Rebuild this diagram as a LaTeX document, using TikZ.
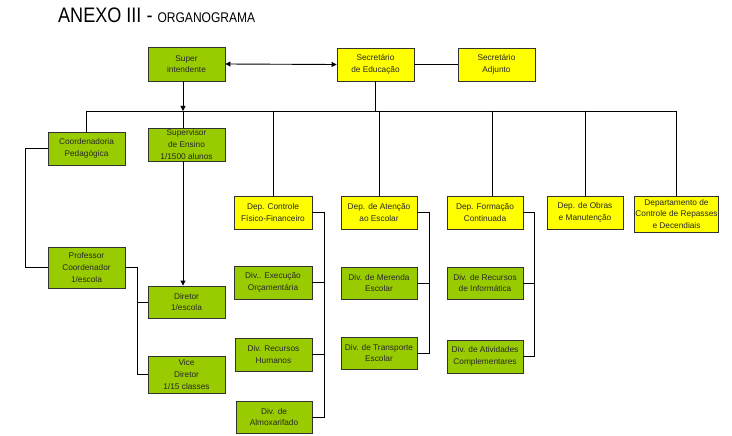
\documentclass[tikz,border=0pt]{standalone}
\usepackage{fontspec}
\setmainfont{Liberation Sans}
\newfontfamily\titlefont[FakeStretch=0.86]{Liberation Sans}
\usetikzlibrary{arrows.meta}
\definecolor{gfill}{RGB}{153,204,0}
\definecolor{yfill}{RGB}{255,255,0}
\definecolor{bordc}{RGB}{50,50,50}
\definecolor{txtc}{RGB}{40,40,40}
\tikzset{
  orgbox/.style={draw=bordc, line width=0.9pt, inner sep=1pt, align=center,
    text=txtc, font=\fontsize{8.3}{11.6}\selectfont, minimum width=77pt, minimum height=33pt},
  gbox/.style={orgbox, fill=gfill},
  ybox/.style={orgbox, fill=yfill},
  conn/.style={draw=black, line width=0.9pt},
  arr/.style={conn, -{Triangle[length=5pt,width=5pt]}},
  darr/.style={conn, {Triangle[length=5pt,width=5pt]}-{Triangle[length=5pt,width=5pt]}}
}
\begin{document}
\begin{tikzpicture}[x=1pt,y=-1pt]
\useasboundingbox (0,0) rectangle (732,436);
\node[anchor=base west, inner sep=0pt] (title) at (58,23)
  {\titlefont\fontsize{21}{24}\selectfont ANEXO III - \fontsize{14}{16}\selectfont ORGANOGRAMA};

% top row
\node[gbox, minimum height=34pt] (super) at (186.5,64) {Super\\intendente};
\node[ybox] (seced) at (375.5,64.5) {Secretário\\de Educação};
\node[ybox] (secadj) at (496.5,64.5) {Secretário\\Adjunto};

% left block
\node[gbox] (coord) at (86.5,148.5) {Coordenadoria\\Pedagógica};
\node[gbox] (superv) at (186.5,144.5) {Supervisor\\de Ensino\\1/1500 alunos};
\node[gbox, minimum height=41pt] (prof) at (86.5,267.5) {Professor\\Coordenador\\1/escola};
\node[gbox, minimum height=32pt] (diretor) at (186.5,302) {Diretor\\1/escola};
\node[gbox, minimum height=37pt] (vice) at (186.5,374.5) {Vice\\Diretor\\1/15 classes};

% departments
\node[ybox, minimum width=78pt] (depctrl) at (273,212.5) {Dep. Controle\\Físico-Financeiro};
\node[ybox, minimum width=76pt] (depaten) at (379,212.5) {Dep. de Atenção\\ao Escolar};
\node[ybox, minimum width=76pt] (depform) at (485,212.5) {Dep. Formação\\Continuada};
\node[ybox, minimum width=76pt] (depobras) at (585,212.5) {Dep. de Obras\\e Manutenção};
\node[ybox, minimum width=83pt, minimum height=36pt] (deprep) at (676.5,214) {Departamento de\\Controle de Repasses\\e Decendiais};

% divisions
\node[gbox, minimum width=78pt] (divexec) at (273,282.5) {Div.. Execução\\Orçamentária};
\node[gbox] (divrh) at (273.5,354.5) {Div. Recursos\\Humanos};
\node[gbox, minimum width=76pt, minimum height=32pt] (divalm) at (274,417) {Div. de\\Almoxarifado};
\node[gbox, minimum width=76pt, minimum height=32pt] (divmer) at (379,283) {Div. de Merenda\\Escolar};
\node[gbox, minimum width=76pt, minimum height=32pt] (divtrans) at (379,353) {Div. de Transporte\\Escolar};
\node[gbox, minimum width=76pt, minimum height=32pt] (divinf) at (485,283) {Div. de Recursos\\de Informática};
\node[gbox, minimum width=76pt] (divativ) at (485,356.5) {Div. de Atividades\\Complementares};

% bus
\coordinate (bus) at (0,111);
\coordinate (sx) at (183,0);
\draw[darr] (super.east) -- (seced.west);
\draw[conn] (seced.east) -- (secadj.west);
\draw[arr] (super.south -| sx) -- (sx |- bus);
\draw[conn] (seced.south) -- (seced.south |- bus);
\draw[conn] (coord.north |- bus) -- (deprep.north |- bus);
\draw[conn] (coord.north |- bus) -- (coord.north);
\draw[conn] (sx |- bus) -- (sx |- superv.north);
\draw[arr] (sx |- superv.south) -- (sx |- diretor.north);
\draw[conn] (depctrl.north |- bus) -- (depctrl.north);
\draw[conn] (depaten.north |- bus) -- (depaten.north);
\draw[conn] ([xshift=7pt]depform.north |- bus) -- ([xshift=7pt]depform.north);
\draw[conn] (depobras.north |- bus) -- (depobras.north);
\draw[conn] (deprep.north |- bus) -- (deprep.north);

% left connectors
\coordinate (lc) at (25,0);
\draw[conn] (coord.west) -- (coord.west -| lc) |- (prof.west);
\coordinate (pc) at (137,0);
\draw[conn] (prof.east) -- (prof.east -| pc) |- (vice.west);
\draw[conn] (diretor.west) -- (diretor.west -| pc);

% department spines
\coordinate (s1) at (324,0);
\draw[conn] (depctrl.east) -- (depctrl.east -| s1) |- (divalm.east);
\draw[conn] (divexec.east) -- (divexec.east -| s1);
\draw[conn] (divrh.east) -- (divrh.east -| s1);
\coordinate (s2) at (429,0);
\draw[conn] (depaten.east) -- (depaten.east -| s2) |- (divtrans.east);
\draw[conn] (divmer.east) -- (divmer.east -| s2);
\coordinate (s3) at (534,0);
\draw[conn] (depform.east) -- (depform.east -| s3) |- (divativ.east);
\draw[conn] (divinf.east) -- (divinf.east -| s3);
\end{tikzpicture}
\end{document}
